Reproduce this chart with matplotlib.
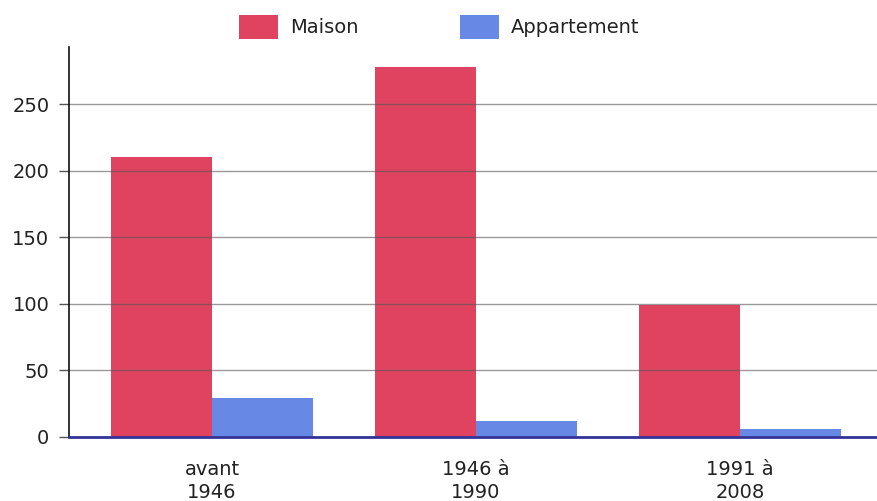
import matplotlib
matplotlib.use("Agg")
import matplotlib.pyplot as plt
import numpy as np

categories = ["avant\n1946", "1946 à\n1990", "1991 à\n2008"]
maison = [210, 278, 99]
appartement = [29, 12, 6]
series_names = ["Maison", "Appartement"]
yticks = [0, 50, 100, 150, 200, 250]

FS = 14
fig = plt.figure(figsize=(8.78, 5.01), dpi=100)
ax = fig.add_axes([69/878, 1-437/501, 1-69/878, (437-47)/501])

x = np.arange(len(categories))
w = 0.383
c_red = "#E0435F"
c_blue = "#6788E5"
ax.bar(x - w/2, maison, width=w, color=c_red, label=series_names[0], zorder=1)
ax.bar(x + w/2, appartement, width=w, color=c_blue, label=series_names[1], zorder=1)

ax.set_ylim(0, 293)
ax.set_xlim(-0.542, 2.523)
ax.set_yticks(yticks)
ax.set_yticklabels([str(v) for v in yticks], fontsize=FS, color="#222222")
for v in yticks[1:]:
    ax.axhline(v, color="#555555", alpha=0.6, linewidth=1, zorder=2)

ax.set_xticks(x)
ax.set_xticklabels(categories, fontsize=FS, color="#222222", linespacing=1.28)
ax.tick_params(axis="x", length=0, pad=16.5)
ax.tick_params(axis="y", length=7.2, width=1, color="#555555", pad=7)

for s in ["top", "right"]:
    ax.spines[s].set_visible(False)
ax.spines["left"].set_color("#111111")
ax.spines["left"].set_linewidth(1.2)
ax.spines["bottom"].set_color("#333399")
ax.spines["bottom"].set_linewidth(2)
ax.spines["bottom"].set_zorder(3)

leg = fig.legend(loc="center", bbox_to_anchor=(439.5/878, 1-27/501), ncol=2, frameon=False,
                 fontsize=FS, handlelength=2.0, handleheight=1.6, columnspacing=5.2,
                 handletextpad=0.62, borderpad=0, borderaxespad=0)
for t in leg.get_texts():
    t.set_color("#222222")

fig.savefig("out.png", dpi=100)
